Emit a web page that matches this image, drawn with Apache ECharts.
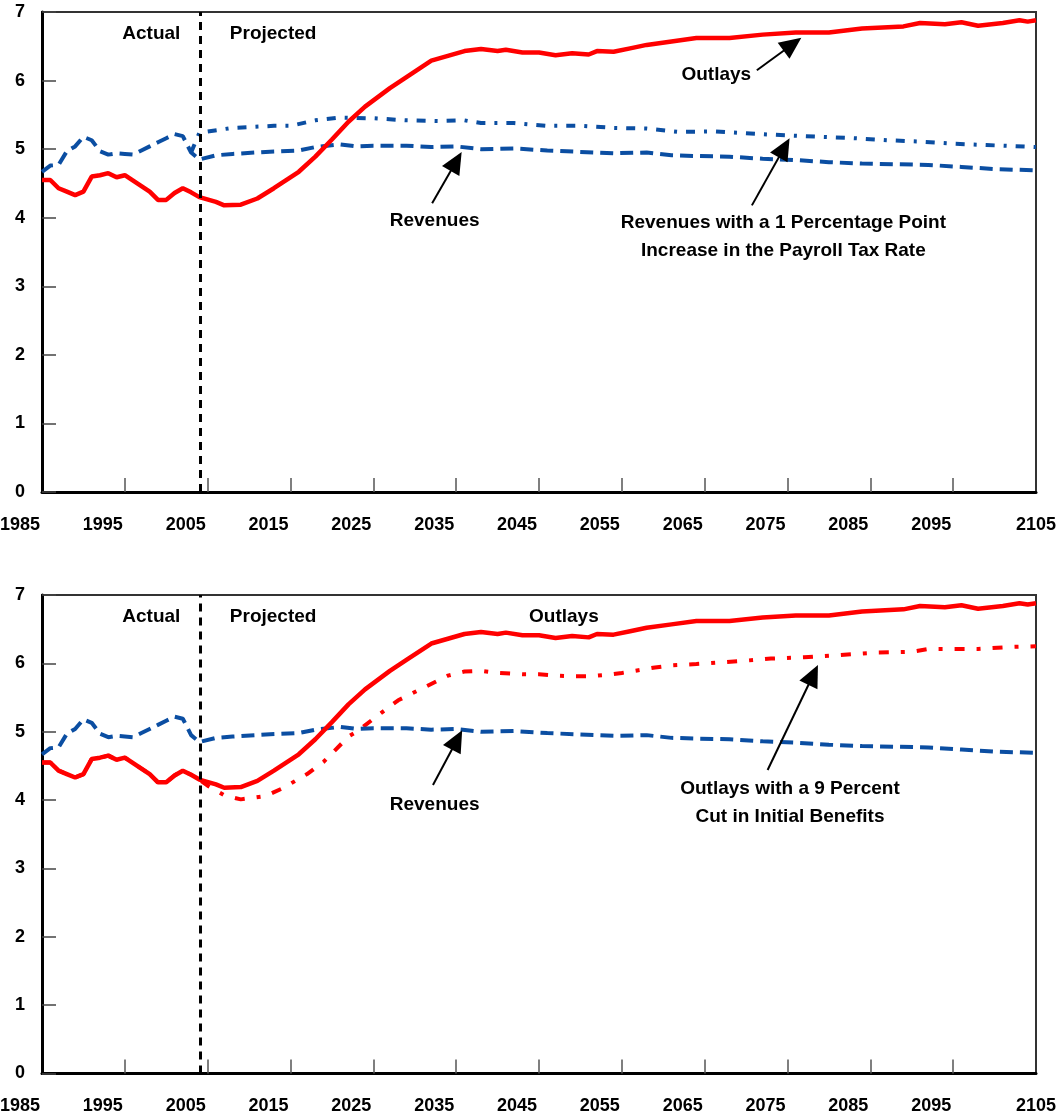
<!DOCTYPE html>
<html>
<head>
<meta charset="utf-8">
<script src="https://cdn.jsdelivr.net/npm/echarts@6/dist/echarts.min.js"></script>
<style>
html,body{margin:0;padding:0;background:#fff;}
#chart{width:1063px;height:1118px;}
</style>
</head>
<body>
<div id="chart"></div>
<script>
// ---- Data (percentage of GDP) ----
const xTickLabels = [1985, 1995, 2005, 2015, 2025, 2035, 2045, 2055, 2065, 2075, 2085, 2095, 2105];
const innerTicks = [1995, 2005, 2015, 2025, 2035, 2045, 2055, 2065, 2075, 2085, 2095];
const yTicks = [0, 1, 2, 3, 4, 5, 6, 7];
const dividerYear = 2004.1;

const outlaysYears = [1985,1986,1987,1988,1989,1990,1991,1992,1993,1994,1995,1996,1997,1998,1999,2000,2001,2002,2003,2004,
  2006,2007,2009,2011,2013,2016,2018,2020,2022,2024,2027,2029,2032,2036,2038,2040,2041,2043,2045,2047,2049,2051,2052,2054,
  2056,2058,2061,2064,2068,2072,2076,2080,2084,2089,2091,2094,2096,2098,2101,2103,2104,2105];
const outlaysValues = [4.55,4.55,4.43,4.38,4.33,4.38,4.60,4.62,4.65,4.59,4.62,4.54,4.46,4.38,4.26,4.26,4.36,4.43,4.37,4.30,
  4.23,4.18,4.19,4.28,4.43,4.67,4.89,5.14,5.40,5.62,5.89,6.05,6.29,6.43,6.46,6.43,6.45,6.41,6.41,6.37,6.40,6.38,6.43,6.42,
  6.47,6.52,6.57,6.62,6.62,6.67,6.70,6.70,6.76,6.79,6.84,6.82,6.85,6.80,6.84,6.88,6.86,6.88];

const revenuesYears = [1985,1986,1987,1988,1989,1990,1991,1992,1993,1994,1995,1996,1997,1998,1999,2000,2001,2002,2003,2004,
  2006,2008,2012,2016,2018,2021,2023,2025,2029,2032,2035,2038,2042,2046,2050,2054,2058,2061,2064,2068,2072,2076,2080,2084,
  2088,2092,2096,2100,2105];
const revenuesValues = [4.67,4.76,4.77,4.97,5.04,5.18,5.13,4.97,4.92,4.94,4.93,4.92,4.98,5.04,5.10,5.16,5.22,5.19,4.95,4.85,
  4.91,4.93,4.96,4.98,5.03,5.07,5.04,5.05,5.05,5.03,5.04,5.00,5.01,4.98,4.96,4.94,4.95,4.91,4.90,4.89,4.86,4.84,4.81,4.79,
  4.78,4.77,4.74,4.71,4.69];

const taxHikeYears = [2003,2004,2008,2013,2015,2018,2021,2025,2029,2033,2036,2038,2042,2046,2050,2054,2058,2062,2066,2070,
  2075,2079,2083,2087,2091,2095,2099,2105];
const taxHikeValues = [4.95,5.24,5.31,5.34,5.34,5.42,5.46,5.45,5.42,5.41,5.42,5.38,5.38,5.34,5.34,5.31,5.30,5.25,5.26,5.23,
  5.20,5.18,5.16,5.13,5.11,5.08,5.06,5.03];

const benefitCutYears = [1985,1986,1987,1988,1989,1990,1991,1992,1993,1994,1995,1996,1997,1998,1999,2000,2001,2002,2003,2004,
  2005,2007,2009,2012,2014,2017,2019,2020,2022,2023,2026,2028,2031,2034,2036,2038,2040,2043,2045,2047,2049,2051,2053,2055,
  2057,2059,2061,2064,2069,2073,2077,2081,2086,2090,2092,2094,2098,2102,2105];
const benefitCutValues = [4.55,4.55,4.43,4.38,4.33,4.38,4.60,4.62,4.65,4.59,4.62,4.54,4.46,4.38,4.26,4.26,4.36,4.43,4.37,4.30,
  4.21,4.07,4.01,4.06,4.17,4.38,4.56,4.68,4.93,5.00,5.28,5.46,5.64,5.82,5.88,5.89,5.86,5.84,5.84,5.82,5.81,5.81,5.83,5.86,
  5.90,5.94,5.97,5.99,6.03,6.07,6.09,6.12,6.16,6.17,6.21,6.21,6.21,6.24,6.25];

// ---- Annotations (data coordinates) ----
const topTexts = [
  {text: 'Actual', year: 1998.2, value: 6.68},
  {text: 'Projected', year: 2012.9, value: 6.68},
  {text: 'Outlays', year: 2066.4, value: 6.08},
  {text: 'Revenues', year: 2032.4, value: 3.96},
  {text: 'Revenues with a 1 Percentage Point\nIncrease in the Payroll Tax Rate', year: 2074.5, value: 3.72}
];
const topArrows = [
  [[2071.3, 6.15], [2075.6, 6.53]],
  [[2032.1, 4.21], [2035.0, 4.82]],
  [[2070.7, 4.18], [2074.6, 5.02]]
];
const bottomTexts = [
  {text: 'Actual', year: 1998.2, value: 6.68},
  {text: 'Projected', year: 2012.9, value: 6.68},
  {text: 'Outlays', year: 2048.0, value: 6.68},
  {text: 'Revenues', year: 2032.4, value: 3.93},
  {text: 'Outlays with a 9 Percent\nCut in Initial Benefits', year: 2075.3, value: 3.96}
];
const bottomArrows = [
  [[2032.2, 4.22], [2035.1, 4.88]],
  [[2072.6, 4.44], [2078.1, 5.83]]
];

// ---- Build chart ----
const FONT = "'Liberation Sans', Arial, sans-serif";
const RED = '#FF0000';
const BLUE = '#0B4EA2';
const pairs = (xs, ys) => xs.map((x, i) => [x, ys[i]]);
const lastLabel = xTickLabels[xTickLabels.length - 1];
const labelFont = {color: '#000', fontSize: 18, fontWeight: 'bold', fontFamily: FONT};

function xAxisFor(gridIndex) {
  return {
    type: 'value', gridIndex, min: 1985, max: 2105,
    axisLine: {show: true, onZero: false, lineStyle: {color: '#000', width: 3}},
    axisTick: {show: true, inside: true, length: 14, customValues: innerTicks, lineStyle: {color: '#555', width: 1.5}},
    axisLabel: {
      show: true, customValues: xTickLabels, margin: 24, ...labelFont,
      formatter: v => (v === lastLabel ? '{e|' + v + '}' : '{s|' + v + '}'),
      rich: {
        s: {...labelFont, padding: [0, 44, 0, 0]},
        e: {...labelFont}
      }
    },
    splitLine: {show: false}
  };
}
function yAxisFor(gridIndex) {
  return {
    type: 'value', gridIndex, min: 0, max: 7, interval: 1,
    axisLine: {show: true, lineStyle: {color: '#000', width: 3}},
    axisTick: {show: true, inside: true, length: 14, lineStyle: {color: '#444', width: 1.5}},
    axisLabel: {show: true, margin: 17, ...labelFont, customValues: yTicks},
    splitLine: {show: false}
  };
}
function textMarks(list) {
  return {
    silent: true, symbol: 'rect', symbolSize: 1,
    itemStyle: {color: 'rgba(0,0,0,0)'},
    label: {show: true, position: 'inside', color: '#000', fontSize: 19, fontWeight: 'bold', fontFamily: FONT,
      lineHeight: 28, align: 'center', verticalAlign: 'middle'},
    data: list.map(t => ({coord: [t.year, t.value], value: t.text, label: {formatter: t.text}}))
  };
}
function arrowMarks(list) {
  return {
    silent: true, symbol: ['none', 'triangle'], symbolSize: [20, 22],
    label: {show: false},
    lineStyle: {color: '#000', width: 2, type: 'solid'},
    itemStyle: {color: '#000'},
    emphasis: {disabled: true},
    data: list.map(a => [{coord: a[0]}, {coord: a[1]}])
  };
}
function dividerMark() {
  return {
    silent: true, symbol: ['none', 'none'],
    label: {show: false},
    lineStyle: {color: '#000', width: 3, type: [8, 6]},
    emphasis: {disabled: true},
    data: [{xAxis: dividerYear}]
  };
}

const option = {
  animation: false,
  backgroundColor: '#fff',
  grid: [
    {left: 42, width: 994, top: 12, height: 480, show: true, borderColor: '#333', borderWidth: 2,
      containLabel: false, outerBoundsMode: 'none'},
    {left: 42, width: 994, top: 595, height: 478.5, show: true, borderColor: '#333', borderWidth: 2,
      containLabel: false, outerBoundsMode: 'none'}
  ],
  xAxis: [xAxisFor(0), xAxisFor(1)],
  yAxis: [yAxisFor(0), yAxisFor(1)],
  series: [
    // Top panel
    {name: 'Revenues with tax increase', type: 'line', xAxisIndex: 0, yAxisIndex: 0, showSymbol: false, symbol: 'none',
      data: pairs(taxHikeYears, taxHikeValues), lineStyle: {color: BLUE, width: 4, type: [9, 9, 3, 9]}, z: 3},
    {name: 'Revenues', type: 'line', xAxisIndex: 0, yAxisIndex: 0, showSymbol: false, symbol: 'none',
      data: pairs(revenuesYears, revenuesValues), lineStyle: {color: BLUE, width: 4, type: [13, 7]}, z: 3,
      markPoint: textMarks(topTexts), markLine: arrowMarks(topArrows)},
    {name: 'Outlays', type: 'line', xAxisIndex: 0, yAxisIndex: 0, showSymbol: false, symbol: 'none',
      data: pairs(outlaysYears, outlaysValues), lineStyle: {color: RED, width: 4.5}, z: 4,
      markLine: dividerMark()},
    // Bottom panel
    {name: 'Outlays with benefit cut', type: 'line', xAxisIndex: 1, yAxisIndex: 1, showSymbol: false, symbol: 'none',
      data: pairs(benefitCutYears, benefitCutValues), lineStyle: {color: RED, width: 4, type: [10, 12, 4, 12]}, z: 3},
    {name: 'Revenues ', type: 'line', xAxisIndex: 1, yAxisIndex: 1, showSymbol: false, symbol: 'none',
      data: pairs(revenuesYears, revenuesValues), lineStyle: {color: BLUE, width: 4, type: [13, 7]}, z: 3,
      markPoint: textMarks(bottomTexts), markLine: arrowMarks(bottomArrows)},
    {name: 'Outlays ', type: 'line', xAxisIndex: 1, yAxisIndex: 1, showSymbol: false, symbol: 'none',
      data: pairs(outlaysYears, outlaysValues), lineStyle: {color: RED, width: 4.5}, z: 4,
      markLine: dividerMark()}
  ]
};

const chart = echarts.init(document.getElementById('chart'), null, {renderer: 'canvas'});
chart.setOption(option);
</script>
</body>
</html>
